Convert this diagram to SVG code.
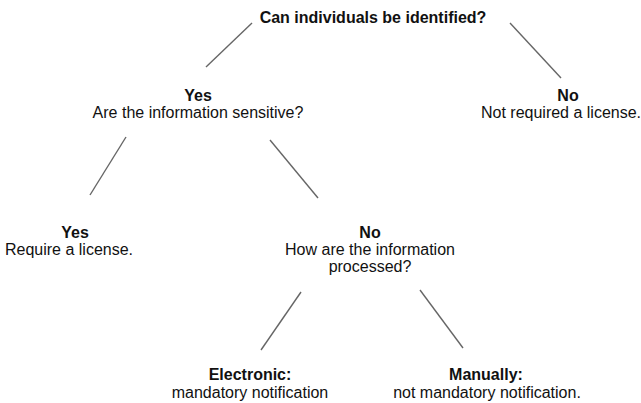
<svg xmlns="http://www.w3.org/2000/svg" width="641" height="403" viewBox="0 0 641 403">
<style>
text{font-family:"Liberation Sans",Arial,sans-serif;font-size:16px;fill:#111;text-anchor:middle}
.b{font-weight:bold}
.c line{stroke:#666;stroke-width:1.4}
</style>
<rect width="641" height="403" fill="#fff"/>
<g class="c" id="connectors">
<line x1="252" y1="23" x2="206" y2="67"/>
<line x1="510" y1="23" x2="561" y2="78"/>
<line x1="126" y1="137" x2="90" y2="195"/>
<line x1="270" y1="140" x2="318" y2="198"/>
<line x1="301" y1="292" x2="261" y2="350"/>
<line x1="420" y1="290" x2="463" y2="348"/>
</g>
<g id="root"><text class="b" x="373" y="23">Can individuals be identified?</text></g>
<g id="yes1"><text class="b" x="198" y="101">Yes</text><text x="198" y="118">Are the information sensitive?</text></g>
<g id="no1"><text class="b" x="568" y="101">No</text><text x="561" y="118">Not required a license.</text></g>
<g id="yes2"><text class="b" x="75" y="238">Yes</text><text x="69" y="255">Require a license.</text></g>
<g id="no2"><text class="b" x="370" y="238">No</text><text x="370" y="255">How are the information</text><text x="370" y="272">processed?</text></g>
<g id="electronic"><text class="b" x="250" y="380">Electronic:</text><text x="250" y="398">mandatory notification</text></g>
<g id="manually"><text class="b" x="486" y="380">Manually:</text><text x="487" y="398">not mandatory notification.</text></g>
</svg>
